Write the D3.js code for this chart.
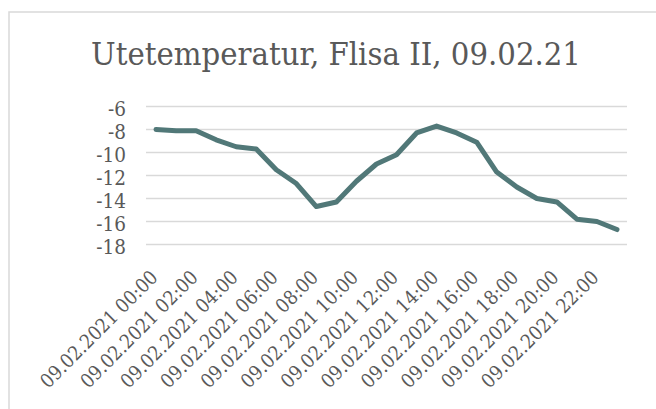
<!DOCTYPE html>
<html>
<head>
<meta charset="utf-8">
<script src="https://cdn.jsdelivr.net/npm/d3@7"></script>
<style>
  html, body { margin: 0; padding: 0; background: #fff; }
  svg { display: block; }
</style>
</head>
<body>
<svg id="chart" width="656" height="409"></svg>
<script>
// Hourly outdoor temperature readings, 09.02.2021
const hours = [
  "09.02.2021 00:00", "09.02.2021 01:00", "09.02.2021 02:00", "09.02.2021 03:00",
  "09.02.2021 04:00", "09.02.2021 05:00", "09.02.2021 06:00", "09.02.2021 07:00",
  "09.02.2021 08:00", "09.02.2021 09:00", "09.02.2021 10:00", "09.02.2021 11:00",
  "09.02.2021 12:00", "09.02.2021 13:00", "09.02.2021 14:00", "09.02.2021 15:00",
  "09.02.2021 16:00", "09.02.2021 17:00", "09.02.2021 18:00", "09.02.2021 19:00",
  "09.02.2021 20:00", "09.02.2021 21:00", "09.02.2021 22:00", "09.02.2021 23:00"
];
const temperatures = [
  -8.0, -8.1, -8.1, -8.9, -9.5, -9.7, -11.5, -12.7,
  -14.7, -14.3, -12.5, -11.0, -10.2, -8.3, -7.7, -8.3,
  -9.1, -11.7, -13.0, -14.0, -14.3, -15.8, -16.0, -16.7
];
const yTicks = [-18, -16, -14, -12, -10, -8, -6];
const title = "Utetemperatur, Flisa II, 09.02.21";

const svg = d3.select("#chart");
const textColor = "#595959";
const serif = "'DejaVu Serif Condensed', 'DejaVu Serif', serif";

function serifText(sel, size) {
  sel.style("font-family", serif)
     .style("font-stretch", "condensed")
     .style("font-size", size + "px")
     .attr("fill", textColor);
}

// Chart area outline (only top and left edges fall inside the view)
svg.append("rect")
  .attr("x", 9).attr("y", 12)
  .attr("width", 700).attr("height", 450)
  .attr("fill", "none")
  .attr("stroke", "#d9d9d9")
  .attr("stroke-width", 1.5);

const plot = { left: 146, right: 627, top: 106.5, bottom: 244.5 };

const x = d3.scaleBand()
  .domain(hours)
  .range([plot.left, plot.right]);

const y = d3.scaleLinear()
  .domain([-18, -6])
  .range([plot.bottom, plot.top]);

// Title
svg.append("text")
  .attr("x", 336).attr("y", 65)
  .attr("text-anchor", "middle")
  .call(serifText, 32.5)
  .text(title);

// Horizontal gridlines
svg.append("g")
  .selectAll("line")
  .data(yTicks)
  .join("line")
  .attr("x1", plot.left).attr("x2", plot.right)
  .attr("y1", d => y(d)).attr("y2", d => y(d))
  .attr("stroke", "#d9d9d9")
  .attr("stroke-width", 1.5);

// Y axis labels
const yAxis = d3.axisLeft(y).tickValues(yTicks).tickSize(0).tickPadding(0)
  .tickFormat(d => String(d));
const gy = svg.append("g")
  .attr("transform", `translate(${plot.left - 20},0)`)
  .call(yAxis);
gy.select(".domain").remove();
gy.selectAll("text")
  .call(serifText, 20.5)
  .attr("dy", "0.45em");

// X axis labels, every second hour, rotated
const xAxis = d3.axisBottom(x)
  .tickValues(hours.filter((d, i) => i % 2 === 0))
  .tickSize(0).tickPadding(0);
const gx = svg.append("g")
  .attr("transform", `translate(0,${plot.bottom})`)
  .call(xAxis);
gx.select(".domain").remove();
gx.selectAll("text")
  .call(serifText, 19.5)
  .attr("text-anchor", "end")
  .attr("dy", 0)
  .attr("transform", "translate(3,34) rotate(-45)");

// Temperature line
const line = d3.line()
  .x((d, i) => x(hours[i]) + x.bandwidth() / 2)
  .y(d => y(d));

svg.append("path")
  .datum(temperatures)
  .attr("d", line)
  .attr("fill", "none")
  .attr("stroke", "#517878")
  .attr("stroke-width", 5)
  .attr("stroke-linejoin", "round")
  .attr("stroke-linecap", "round");
</script>
</body>
</html>
